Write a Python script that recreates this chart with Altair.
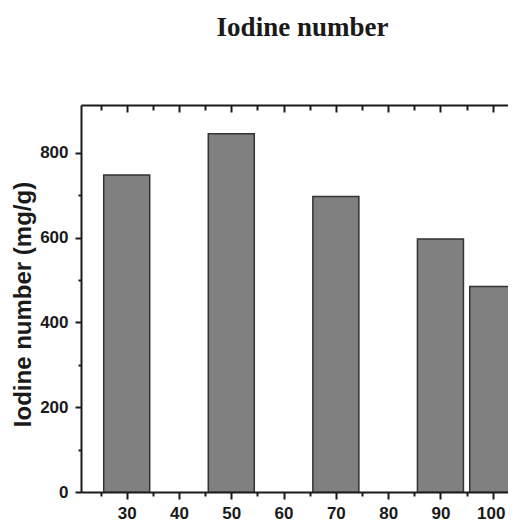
import altair as alt
import pandas as pd

# Data
temps = [30, 50, 70, 90, 100]
iodine = [748, 845, 697, 597, 485]
x_tick_values = [25, 30, 35, 40, 45, 50, 55, 60, 65, 70, 75, 80, 85, 90, 95, 100]
y_tick_values = [0, 100, 200, 300, 400, 500, 600, 700, 800]

df = pd.DataFrame({"temp": temps, "iodine": iodine})

W, H = 427, 387
INK = "#1a1a1a"

xscale = alt.Scale(domain=[21.26, 102.92], nice=False, zero=False, padding=0)
yscale = alt.Scale(domain=[0, 913], nice=False, padding=0)

x_major = "datum.value % 10 === 0"
y_major = "datum.value % 200 === 0"

bottom_axis = alt.Axis(
    orient="bottom",
    values=x_tick_values,
    labelExpr=f"{x_major} ? datum.label : ''",
    title=None,
    grid=False,
    domainColor=INK, domainWidth=2,
    tickColor=INK, tickWidth=2,
    tickSize={"condition": {"test": x_major, "value": 7}, "value": 4},
    labelFont="Liberation Sans", labelFontSize=17, labelFontWeight="bold",
    labelColor=INK, labelPadding=6, labelFlush=False, labelOverlap=False,
    labelOffset={"condition": {"test": "datum.value === 100", "value": -2}, "value": 0},
)

top_axis = alt.Axis(
    orient="bottom",
    offset=-H,
    values=x_tick_values,
    labels=False,
    title=None,
    grid=False,
    domainColor=INK, domainWidth=2,
    tickColor=INK, tickWidth=2,
    tickSize={"condition": {"test": x_major, "value": 7}, "value": 5},
)

left_axis = alt.Axis(
    values=y_tick_values,
    labelExpr=f"{y_major} ? datum.label : ''",
    title="Iodine number (mg/g)",
    titleFont="Liberation Sans", titleFontSize=24, titleFontWeight="bold",
    titleColor=INK, titleAngle=270, titleBaseline="alphabetic",
    titleX=-51, titleY=199,
    grid=False,
    domainColor=INK, domainWidth=2,
    tickColor=INK, tickWidth=2,
    tickSize={"condition": {"test": y_major, "value": 6}, "value": 3},
    labelFont="Liberation Sans", labelFontSize=17, labelFontWeight="bold",
    labelColor=INK, labelPadding=7, labelOverlap=False,
)

bars = alt.Chart(df).mark_bar(
    size=46, fill="#808080", stroke="#333333", strokeWidth=1.5, clip=True
).encode(
    x=alt.X("temp:Q", scale=xscale, axis=bottom_axis),
    y=alt.Y("iodine:Q", scale=yscale, axis=left_axis),
)

top_layer = alt.Chart(df).mark_bar(size=46, opacity=0, clip=True).encode(
    x=alt.X("temp:Q", scale=xscale, axis=top_axis),
    y=alt.Y("iodine:Q", scale=yscale),
)

chart = alt.layer(bars, top_layer).resolve_axis(x="independent").properties(
    width=W,
    height=H,
    title=alt.TitleParams(
        "Iodine number",
        font="Liberation Serif", fontSize=27, fontWeight="bold",
        color=INK, anchor="middle", frame="group", offset=62, dx=8,
    ),
    autosize=alt.AutoSizeParams(type="none"),
    padding={"left": 73, "top": 97, "right": 0, "bottom": 31},
).configure_view(stroke=None).configure(background="white")

chart.save("out.html", embed_options={"renderer": "svg", "actions": False})
